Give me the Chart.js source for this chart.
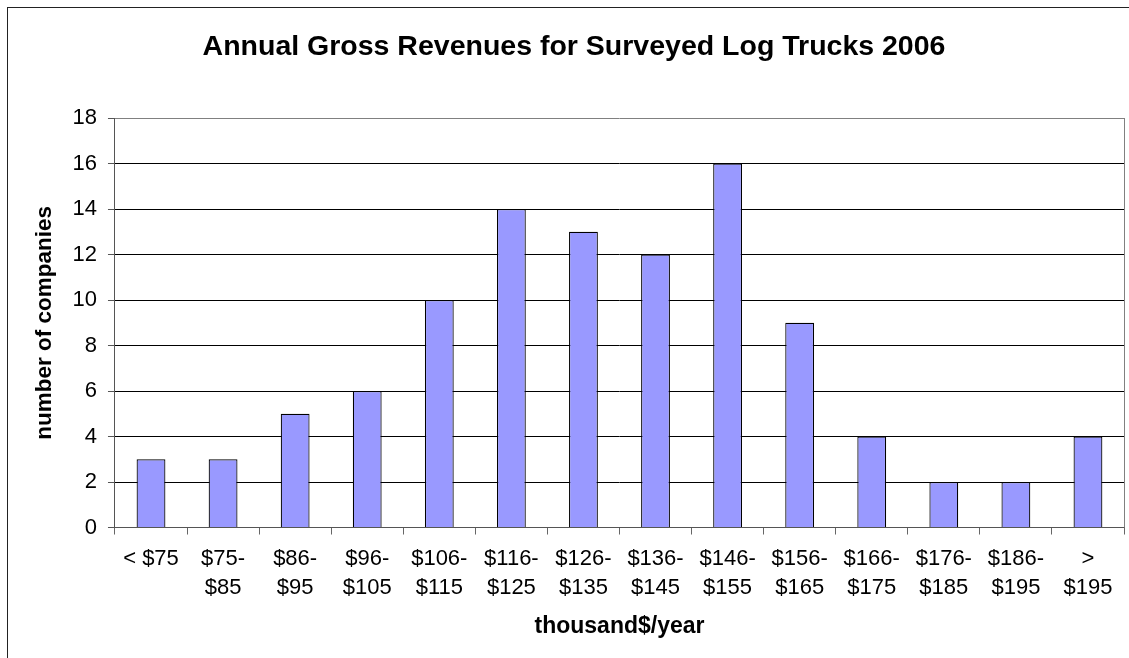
<!DOCTYPE html>
<html>
<head>
<meta charset="utf-8">
<title>Annual Gross Revenues for Surveyed Log Trucks 2006</title>
<script src="https://cdn.jsdelivr.net/npm/chart.js@4/dist/chart.umd.min.js"></script>
<style>
html,body{margin:0;padding:0;background:#fff;overflow:hidden;}
#wrap{position:relative;width:1129px;height:658px;}
#frame{position:absolute;left:7px;top:7px;width:1200px;height:700px;border:1.5px solid #222;box-sizing:border-box;}
#chart{position:absolute;left:0;top:0;}
</style>
</head>
<body>
<div id="wrap">
<div id="frame"></div>
<canvas id="chart" width="1129" height="658"></canvas>
</div>
<script>
// ---- data ----
const categorias=[
["< $75"],["$75-","$85"],["$86-","$95"],["$96-","$105"],["$106-","$115"],
["$116-","$125"],["$126-","$135"],["$136-","$145"],["$146-","$155"],["$156-","$165"],
["$166-","$175"],["$176-","$185"],["$186-","$195"],[">","$195"]
];
const empresas=[3,3,5,6,10,14,13,12,16,9,4,2,2,4];
const yMin=0,yMax=18,yPaso=2;

const fuente="'Liberation Sans', Arial, sans-serif";
Chart.defaults.font.family=fuente;
Chart.defaults.color="#000";

// gray border on the right side of the plot area
const bordePlot={
id:"bordePlot",
afterDraw(chart){
const a=chart.chartArea,c=chart.ctx;
c.save();
c.strokeStyle="#808080";
c.lineWidth=1;
c.beginPath();
c.moveTo(Math.round(a.right)+0.5,a.top);
c.lineTo(Math.round(a.right)+0.5,a.bottom);
c.stroke();
c.restore();
}
};

new Chart(document.getElementById("chart"),{
type:"bar",
data:{
labels:categorias,
datasets:[{
data:empresas,
backgroundColor:"#9999FF",
borderColor:"#000",
borderWidth:1.2,
barPercentage:0.4,
categoryPercentage:1
}]
},
options:{
responsive:false,
animation:false,
layout:{padding:{left:24,right:5,top:0,bottom:0}},
plugins:{
legend:{display:false},
tooltip:{enabled:false},
title:{
display:true,
text:"Annual Gross Revenues for Surveyed Log Trucks 2006",
font:{size:28.5,weight:"bold"},
color:"#000",
padding:{top:29.9,bottom:53.9}
}
},
scales:{
x:{
grid:{
offset:true,
drawOnChartArea:false,
drawTicks:true,
tickLength:7,
color:"#666"
},
border:{display:true,color:"#555",width:1},
ticks:{
font:{size:22,lineHeight:1.32},
color:"#000",
padding:9.5,
maxRotation:0,
autoSkip:false
},
title:{
display:true,
text:"thousand$/year",
font:{size:23,weight:"bold"},
color:"#000",
padding:{top:1.6,bottom:17.2}
}
},
y:{
min:yMin,
max:yMax,
grid:{
color:(ctx)=>ctx.tick&&ctx.tick.value===yMax?"#808080":"#000",
tickColor:"#555",
tickLength:7
},
border:{display:true,color:"#555",width:1},
ticks:{
stepSize:yPaso,
font:{size:22},
color:"#000",
padding:11
},
title:{
display:true,
text:"number of companies",
font:{size:22.5,weight:"bold"},
color:"#000",
padding:{top:7.5,bottom:3}
}
}
}
},
plugins:[bordePlot]
});
</script>
</body>
</html>
